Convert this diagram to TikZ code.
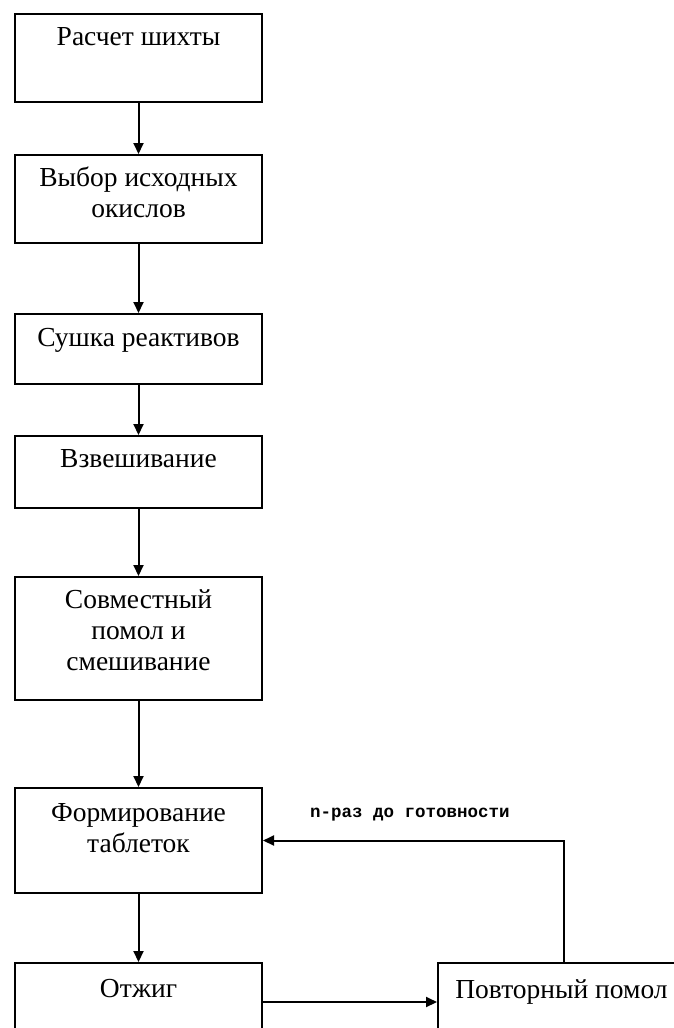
\documentclass[tikz,border=0pt]{standalone}
\usepackage{fontspec}
\setmainfont{Liberation Serif}
\newfontfamily\labelfont{Liberation Mono}
\usetikzlibrary{arrows.meta}
\begin{document}
\begin{tikzpicture}[x=1pt,y=-1pt,
  box/.style={draw=black, line width=2pt, rectangle, minimum width=247pt, inner sep=0pt, anchor=north west},
  txt/.style={anchor=base, font=\fontsize{27.5}{31}\selectfont, align=center, inner sep=0pt},
  lbl/.style={anchor=base west, font=\labelfont\bfseries\fontsize{17.5}{20}\selectfont, inner sep=0pt},
  arr/.style={line width=2pt, -{Triangle[length=11pt,width=10pt]}}]
\useasboundingbox (0,0) rectangle (674,1028);
\clip (0,0) rectangle (674,1028);
\fill[white] (0,0) rectangle (674,1028);

\node[box, minimum height=88pt]  (b1) at (14,13)  {};
\node[box, minimum height=88pt]  (b2) at (14,154) {};
\node[box, minimum height=70pt]  (b3) at (14,313) {};
\node[box, minimum height=72pt]  (b4) at (14,435) {};
\node[box, minimum height=123pt] (b5) at (14,576) {};
\node[box, minimum height=105pt] (b6) at (14,787) {};
\node[box, minimum height=78pt]  (b7) at (14,962) {};
\node[box, minimum height=78pt]  (b8) at (437,962) {};

% multi-line nodes: base anchor is the baseline of the last line
\node[txt] (t1) at ([yshift=-32pt]b1.north) {Расчет шихты};
\node[txt] (t2) at ([yshift=-63pt]b2.north) {Выбор исходных\\окислов};
\node[txt] (t3) at ([yshift=-33pt]b3.north) {Сушка реактивов};
\node[txt] (t4) at ([yshift=-32pt]b4.north) {Взвешивание};
\node[txt] (t5) at ([yshift=-94pt]b5.north) {Совместный\\помол и\\смешивание};
\node[txt] (t6) at ([yshift=-65pt]b6.north) {Формирование\\таблеток};
\node[txt] (t7) at ([yshift=-35pt]b7.north) {Отжиг};
\node[txt] (t8) at ([yshift=-36pt]b8.north) {Повторный помол};

\node[lbl] (lab) at (310,817) {n-раз до готовности};

\draw[arr] (b1) -- (b2);
\draw[arr] (b2) -- (b3);
\draw[arr] (b3) -- (b4);
\draw[arr] (b4) -- (b5);
\draw[arr] (b5) -- (b6);
\draw[arr] (b6) -- (b7);
\draw[arr] (b7) -- (b8);
\draw[arr] ([xshift=2.5pt]b8.north) |- (b6.east);
\end{tikzpicture}
\end{document}
